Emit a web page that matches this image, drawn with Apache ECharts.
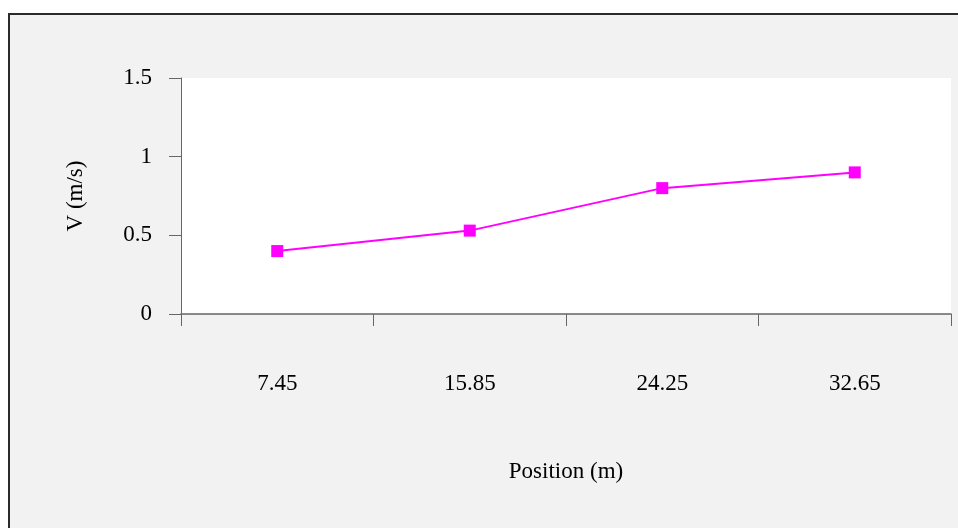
<!DOCTYPE html>
<html>
<head>
<meta charset="utf-8">
<script src="https://cdn.jsdelivr.net/npm/echarts@6/dist/echarts.min.js"></script>
<style>
html,body{margin:0;padding:0;background:#fff;}
#chart{width:958px;height:528px;}
</style>
</head>
<body>
<div id="chart"></div>
<script>
var categories = ['7.45', '15.85', '24.25', '32.65'];
var velocity = [0.40, 0.53, 0.80, 0.90];
var yTicks = [0, 0.5, 1, 1.5];

var FONT = "'Liberation Serif', 'Times New Roman', serif";
var chart = echarts.init(document.getElementById('chart'), null, {renderer: 'canvas'});
chart.setOption({
  animation: false,
  backgroundColor: '#ffffff',
  graphic: [{
    type: 'rect',
    z: -10,
    shape: {x: 9, y: 14, width: 970, height: 540},
    style: {fill: '#f2f2f2', stroke: '#2b2b2b', lineWidth: 2}
  }],
  grid: {
    left: 181, top: 78, right: 7, bottom: 214,
    show: true, backgroundColor: '#ffffff', borderWidth: 0
  },
  xAxis: {
    type: 'category',
    data: categories,
    boundaryGap: true,
    name: 'Position (m)',
    nameLocation: 'middle',
    nameGap: 146,
    nameTextStyle: {fontFamily: FONT, fontSize: 23, color: '#000'},
    axisLine: {show: true, lineStyle: {color: '#666666', width: 1.5}},
    axisTick: {show: true, inside: false, length: 12, lineStyle: {color: '#666666', width: 1}},
    axisLabel: {fontFamily: FONT, fontSize: 23, color: '#000', margin: 58},
    splitLine: {show: false}
  },
  yAxis: {
    type: 'value',
    min: yTicks[0],
    max: yTicks[yTicks.length - 1],
    interval: 0.5,
    name: 'V (m/s)',
    nameLocation: 'middle',
    nameGap: 94,
    nameRotate: 90,
    nameTextStyle: {fontFamily: FONT, fontSize: 23, color: '#000'},
    axisLine: {show: true, lineStyle: {color: '#666666', width: 1}},
    axisTick: {show: true, inside: false, length: 12, lineStyle: {color: '#666666', width: 1}},
    axisLabel: {fontFamily: FONT, fontSize: 23, color: '#000', margin: 29, padding: [5, 0, 0, 0]},
    splitLine: {show: false}
  },
  series: [{
    type: 'line',
    data: velocity,
    symbol: 'rect',
    symbolSize: 12,
    showAllSymbol: true,
    lineStyle: {color: '#ff00ff', width: 2},
    itemStyle: {color: '#ff00ff'}
  }]
});
</script>
</body>
</html>
